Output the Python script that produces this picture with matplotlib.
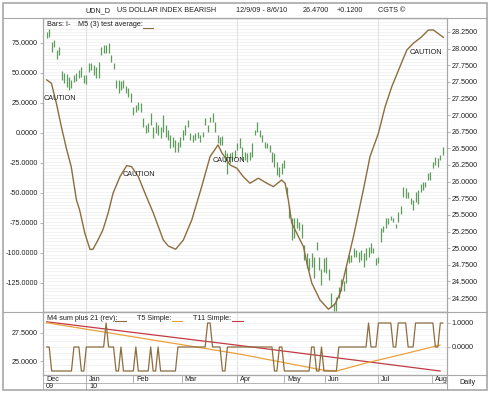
import numpy as np
import matplotlib
matplotlib.use("Agg")
import matplotlib.pyplot as plt
from matplotlib.lines import Line2D
from matplotlib.patches import Rectangle
from matplotlib.ticker import FormatStrFormatter

plt.rcParams['font.family'] = ['Liberation Sans', 'DejaVu Sans']
plt.rcParams['font.size'] = 5.2

# daily bars (price, right axis), one per trading day
bar_high = [28.25, 28.30, 28.10, 28.13, 27.98, 28.03, 27.66, 27.64, 27.62, 27.57,
            27.53, 27.60, 27.64, 27.68, 27.72, 27.60, 27.60, 27.78, 27.78, 27.75,
            27.72, 27.80, 28.03, 28.05, 28.05, 28.08, 27.90, 27.78, 27.53, 27.53,
            27.51, 27.53, 27.44, 27.41, 27.33, 27.12, 27.15, 27.20, 27.18, 26.95,
            26.85, 26.88, 27.03, 26.82, 26.89, 26.85, 26.82, 27.00, 26.85, 26.77,
            26.70, 26.67, 26.62, 26.59, 26.67, 26.77, 26.85, 26.92, 26.73, 26.70,
            26.73, 26.74, 26.70, 26.74, 26.95, 26.85, 26.97, 27.03, 26.89, 26.70,
            26.67, 26.68, 26.47, 26.43, 26.43, 26.44, 26.47, 26.58, 26.65, 26.52,
            26.44, 26.43, 26.44, 26.58, 26.77, 26.89, 26.77, 26.70, 26.59, 26.58,
            26.55, 26.44, 26.43, 26.29, 26.22, 26.28, 26.32, 25.92, 25.64, 25.46,
            25.45, 25.45, 25.39, 25.37, 25.04, 24.92, 24.85, 24.92, 24.86, 25.09,
            24.86, 24.69, 24.85, 24.86, 24.69, 24.33, 24.18, 24.26, 24.41, 24.54,
            24.51, 24.71, 24.89, 24.89, 25.00, 24.97, 24.94, 24.97, 24.92, 25.00,
            25.01, 25.07, 25.00, 24.85, 24.86, 25.30, 25.34, 25.46, 25.46, 25.49,
            25.46, 25.37, 25.54, 25.64, 25.92, 25.90, 25.84, 25.76, 25.72, 25.84,
            25.87, 25.97, 25.99, 25.99, 26.13, 26.14, 26.29, 26.37, 26.35, 26.40,
            26.52]
bar_low = [28.16, 28.17, 27.95, 28.03, 27.84, 27.90, 27.53, 27.48, 27.42, 27.38,
           27.41, 27.50, 27.51, 27.56, 27.57, 27.48, 27.47, 27.65, 27.68, 27.60,
           27.56, 27.56, 27.90, 27.93, 27.93, 27.93, 27.80, 27.70, 27.41, 27.33,
           27.38, 27.41, 27.33, 27.27, 27.20, 27.00, 27.05, 27.08, 27.05, 26.82,
           26.73, 26.75, 26.85, 26.65, 26.73, 26.70, 26.65, 26.74, 26.67, 26.62,
           26.50, 26.52, 26.44, 26.44, 26.52, 26.62, 26.70, 26.82, 26.62, 26.59,
           26.62, 26.65, 26.59, 26.67, 26.85, 26.74, 26.89, 26.89, 26.74, 26.58,
           26.55, 26.55, 26.29, 26.12, 26.28, 26.32, 26.35, 26.47, 26.50, 26.32,
           26.32, 26.29, 26.32, 26.37, 26.70, 26.74, 26.67, 26.59, 26.50, 26.50,
           26.44, 26.29, 26.22, 26.10, 26.07, 26.12, 26.20, 25.77, 25.46, 25.12,
           25.16, 25.31, 25.27, 25.16, 24.82, 24.70, 24.67, 24.71, 24.55, 24.97,
           24.67, 24.44, 24.64, 24.62, 24.52, 24.11, 24.06, 24.06, 24.25, 24.36,
           24.36, 24.47, 24.77, 24.79, 24.86, 24.86, 24.79, 24.82, 24.71, 24.82,
           24.86, 24.92, 24.92, 24.74, 24.77, 25.09, 25.24, 25.31, 25.37, 25.42,
           25.39, 25.30, 25.39, 25.52, 25.77, 25.75, 25.75, 25.67, 25.57, 25.69,
           25.67, 25.84, 25.87, 25.92, 26.02, 26.02, 26.20, 26.25, 26.22, 26.32,
           26.40]

# M5 (3) test average, left axis
osc_day = [0, 1.9, 3.9, 5.9, 8.0, 9.9, 12.0, 13.3, 15.4, 17.5, 18.7, 20.7, 22.7,
           24.8, 26.8, 29.6, 32.3, 34.3, 37.0, 39.7, 43.1, 47.1, 49.1, 52.1, 55.2,
           58.6, 62.6, 66.0, 69.2, 70.8, 74.1, 76.8, 79.4, 82.1, 85.5, 88.9, 91.6,
           94.9, 96.3, 97.6, 99.0, 101.7, 103.7, 105.1, 107.1, 110.4, 113.8, 116.5,
           118.5, 121.2, 123.9, 127.9, 130.6, 134.0, 136.7, 139.4, 142.7, 145.5,
           148.1, 151.5, 154.2, 156.2, 158.9, 160.2]
osc_val = [44.2, 41.4, 24.8, 5.3, -13.3, -28.1, -55.8, -64.2, -83.6, -97.1, -96.9,
           -89.2, -80.8, -66.9, -50.2, -36.4, -27.2, -28.1, -36.4, -50.2, -66.9,
           -89.2, -94.2, -96.9, -89.2, -72.5, -44.7, -19.7, -10.0, -16.7, -26.7,
           -29.4, -36.4, -41.9, -37.7, -41.9, -44.7, -39.2, -41.9, -55.8, -75.2,
           -86.4, -94.7, -108.6, -125.2, -139.2, -146.9, -142.5, -133.6, -110.0,
           -86.4, -47.5, -19.7, -0.2, 21.9, 38.6, 55.3, 69.2, 74.7, 80.2, 85.8,
           85.8, 81.7, 79.7]

caution_day = [-1.1, 30.7, 67.2, 146.8]
caution_val = [28.3, -34.4, -22.9, 67.2]

# lower panel
m4 = [0, 0, -1, -1, -1, -1, -1, -1, -1, -1, -1, 0, 0, 0, -1, -1, 0, 0, 0, 0,
      0, 0, 0, 0, 1, 0, 0, 0, -1, -1, 0, -1, -1, -1, -1, -1, 0, -1, -1, -1,
      -1, -1, 0, -1, -1, 0, -1, -1, -1, -1, -1, -1, -1, 0, 0, 0, 0, 0, 0, 0,
      0, 0, 0, 0, 0, 1, 1, 0, 0, 0, 0, -1, -1, 0, 0, 0, 0, 0, 0, 0,
      0, 0, 0, 0, 0, 0, 0, 0, 0, 0, 0, 0, -1, -1, 0, 0, -1, -1, -1, -1,
      -1, -1, -1, -1, -1, -1, -1, 0, 0, -1, -1, 0, -1, -1, -1, -1, -1, -1, 0, 0,
      0, 0, 0, 0, 0, 0, 0, 0, 0, 0, 1, 0, 0, 0, 1, 1, 1, 1, 1, 1,
      0, 0, 1, 1, 1, 1, 0, 0, 0, 1, 1, 1, 1, 1, 1, 1, 1, 0, 0, 1,
      1]
t5_day = [0, 78.2, 112.0, 117.2, 129.3, 145.5, 158.9]
t5_val = [1.01, -0.30, -0.97, -1.0, -0.66, -0.26, 0.08]
t11_day = [0, 82.1, 129.3, 158.9]
t11_val = [1.05, 0.01, -0.61, -1.0]

months = ['Dec', 'Jan', 'Feb', 'Mar', 'Apr', 'May', 'Jun', 'Jul', 'Aug']
month_pos = [-1.5, 15.9, 35.0, 54.5, 77.0, 96.0, 112.4, 133.7, 155.6]
years = ['09', '10']
year_pos = [-1.5, 15.9]
grid_pos = [15.9, 77.0, 133.7]

GREEN = '#5e9c5e'
BROWN = '#8d6d3e'
ORANGE = '#eaa13c'
RED = '#c33a44'
FRAME = '#a8a8a8'
INK = '#222222'

W, H = 490, 393
fig = plt.figure(figsize=(W / 100, H / 100), dpi=100)


def box(x0, y0, x1, y1):
    return [x0 / W, 1 - y1 / H, (x1 - x0) / W, (y1 - y0) / H]


def fline(xs, ys, **kw):
    fig.add_artist(Line2D([x / W for x in xs], [1 - y / H for y in ys],
                          transform=fig.transFigure, **kw))


def ftext(x, y, s, **kw):
    fig.text(x / W, 1 - y / H, s, va='center', color=INK, **kw)


XL = (-1.5, 161.7)

# main panel
ax = fig.add_axes(box(43, 18, 447, 312))
axp = ax.twinx()
ax.set_zorder(axp.get_zorder() + 1)
ax.patch.set_visible(False)

days = np.arange(len(bar_high))
for y in np.arange(24.05, 28.46, 0.05):
    axp.axhline(y, color='#efefef', lw=0.5, zorder=0)
for p in grid_pos:
    axp.axvline(p, color='#e2e2e2', lw=0.8, zorder=0)
axp.vlines(days, bar_low, bar_high, color=GREEN, lw=0.9)
ax.plot(osc_day, osc_val, color=BROWN, lw=1.0)
for d, v in zip(caution_day, caution_val):
    ax.text(d, v, 'CAUTION', ha='left', va='center', color=INK)

ax.set_xlim(XL)
ax.set_ylim(-149.2, 95.8)
axp.set_ylim(24.04, 28.46)
ax.set_yticks(np.arange(-125, 76, 25))
axp.set_yticks(np.arange(24.25, 28.26, 0.25))
ax.yaxis.set_major_formatter(FormatStrFormatter('%.4f'))
axp.yaxis.set_major_formatter(FormatStrFormatter('%.4f'))
ax.set_xticks([])

# lower panel
axb = fig.add_axes(box(43, 312, 447, 375))
axb2 = axb.twinx()
for p in grid_pos:
    axb2.axvline(p, color='#e2e2e2', lw=0.8, zorder=0)
for y in np.arange(-1.0, 1.46, 0.25):
    axb2.axhline(y, color='#efefef', lw=0.5, zorder=0)
axb2.plot(t11_day, t11_val, color=RED, lw=0.9)
axb2.plot(t5_day, t5_val, color=ORANGE, lw=0.9)
axb2.plot(np.arange(len(m4)), m4, color=BROWN, lw=0.9)
axb.set_xlim(XL)
axb.set_ylim(23.75, 29.375)
axb2.set_ylim(-1.167, 1.458)
axb.set_yticks([25.0, 27.5])
axb2.set_yticks([0.0, 1.0])
axb.yaxis.set_major_formatter(FormatStrFormatter('%.4f'))
axb2.yaxis.set_major_formatter(FormatStrFormatter('%.4f'))
axb.set_xticks([])

for a in (ax, axp, axb, axb2):
    for s in a.spines.values():
        s.set_color(FRAME)
        s.set_linewidth(0.8)
    a.tick_params(axis='y', length=2, width=0.6, color=FRAME, pad=1.5,
                  labelsize=5.2, labelcolor=INK)

# date strip
axd = fig.add_axes(box(43, 375, 447, 390))
axd.set_xlim(XL)
axd.set_ylim(0, 1)
axd.axis('off')
axd.axhline(0.47, color=FRAME, lw=0.6)
for m, p in zip(months, month_pos):
    axd.plot([p, p], [1, 0.47], color=FRAME, lw=0.6)
    axd.text(p + 1.2, 0.71, m, ha='left', va='center', color=INK)
for yl, p in zip(years, year_pos):
    axd.plot([p, p], [0.47, 0], color=FRAME, lw=0.6)
    axd.text(p + 1.2, 0.22, yl, ha='left', va='center', color=INK)

# frames
fig.add_artist(Rectangle((3 / W, 1 - 390 / H), 484 / W, 387 / H,
                         transform=fig.transFigure, fill=False,
                         edgecolor=FRAME, lw=1.2))
fline([3, 487], [18, 18], color=FRAME, lw=0.8)
fline([3, 487], [312, 312], color=FRAME, lw=0.8)
fline([43, 487], [375, 375], color=FRAME, lw=0.8)
fline([447, 447], [375, 390], color=FRAME, lw=0.8)
ftext(467, 383, 'Daily', ha='center')

# title bar
ftext(85, 10.5, 'UDN_D')
ftext(117, 10.5, 'US DOLLAR INDEX BEARISH')
ftext(236, 10.5, '12/9/09 - 8/6/10')
ftext(303, 10.5, '26.4700')
ftext(337, 10.5, '+0.1200')
ftext(378, 10.5, 'CGTS \u00a9')

# legends
ftext(47, 24.5, 'Bars: I-')
ftext(78, 24.5, 'M5 (3) test average:')
fline([143, 153], [27.5, 27.5], color=BROWN, lw=0.8)
ftext(47, 318, 'M4 sum plus 21 (rev):')
fline([115, 126], [320.5, 320.5], color=BROWN, lw=0.8)
ftext(137, 318, 'T5 Simple:')
fline([172, 182], [320.5, 320.5], color=ORANGE, lw=0.8)
ftext(193, 318, 'T11 Simple:')
fline([232, 243], [320.5, 320.5], color=RED, lw=0.8)

fig.savefig('out.png', dpi=100)
